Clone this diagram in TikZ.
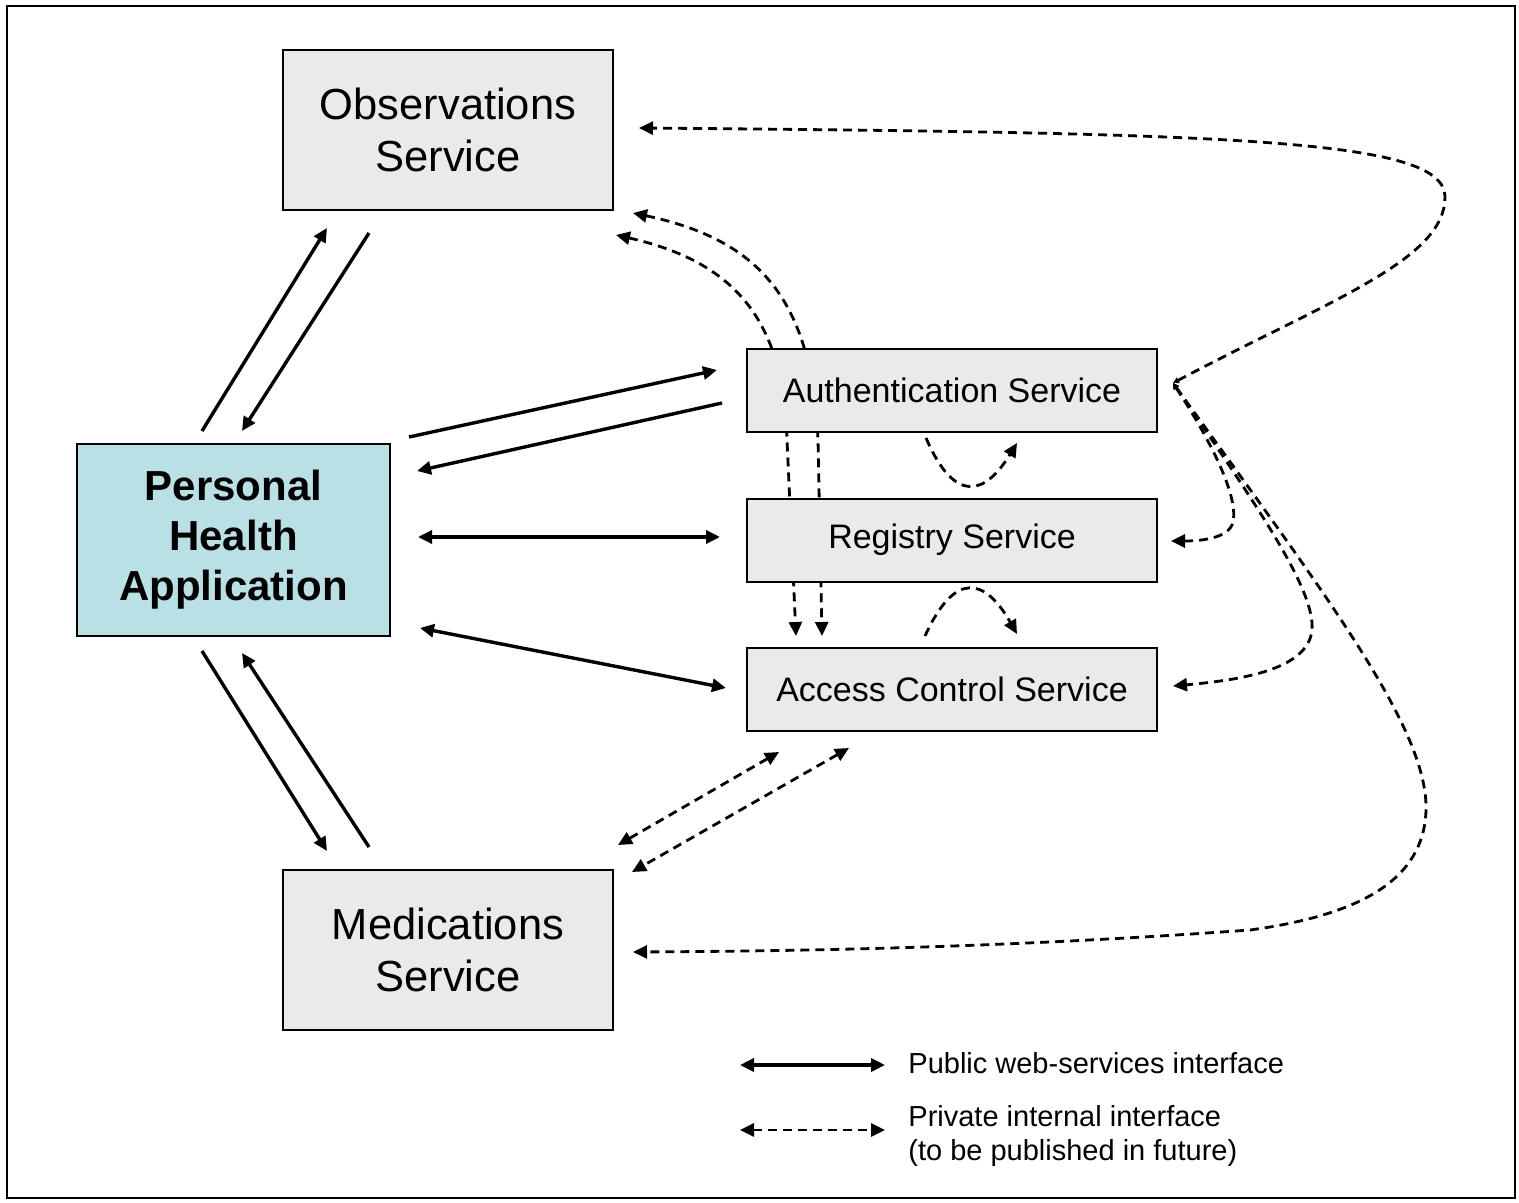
\documentclass[tikz,border=0pt]{standalone}
\usepackage{fontspec}
\setmainfont{Liberation Sans}
\usetikzlibrary{arrows.meta,backgrounds}
\definecolor{boxgray}{RGB}{234,234,234}
\definecolor{phacyan}{RGB}{185,224,228}
\tikzset{
  svc/.style={draw,line width=1pt,fill=boxgray,inner sep=0pt,align=center},
  bigsvc/.style={svc,minimum width=165pt,minimum height=80pt,font=\fontsize{21.75}{26}\selectfont},
  smallsvc/.style={svc,minimum width=205pt,minimum height=41.5pt,font=\fontsize{17}{20}\selectfont},
  tip/.tip={Triangle[length=7pt,width=6.5pt]},
  smalltip/.tip={Triangle[length=3pt,width=3pt]},
  pub/.style={line width=1.7pt,-tip},
  pubboth/.style={line width=1.7pt,tip-tip},
  privline/.style={line width=1.4pt,dash pattern=on 4.5pt off 3pt},
  priv/.style={privline,tip-tip},
  privone/.style={privline,-tip},
  privhub/.style={privline,smalltip-tip},
  legend/.style={inner sep=0pt,align=left,font=\fontsize{14.5}{17}\selectfont}
}
\begin{document}
\begin{tikzpicture}[x=0.5pt,y=-0.5pt]
  \useasboundingbox (0,0) rectangle (1519,1203);
  \draw[line width=1pt] (7,6) rectangle (1515,1198);
  % services
  \node[bigsvc] (obs) at (448,130) {Observations\\Service};
  \node[bigsvc] (med) at (448,950) {Medications\\Service};
  \node[svc,fill=phacyan,minimum width=156.5pt,minimum height=96pt,
        font=\bfseries\fontsize{21}{25}\selectfont] (pha) at (233.5,540) {Personal\\Health\\Application};
  \node[smallsvc] (auth) at (952,390.5) {Authentication Service};
  \node[smallsvc] (reg) at (952,540) {Registry Service};
  \node[smallsvc] (acc) at (952,689.5) {Access Control Service};
  % public interfaces
  \draw[pub] ([shift={(126,-12)}]pha.north west) -- ([shift={(45,17)}]obs.south west);
  \draw[pub] ([shift={(87,22)}]obs.south west) -- ([shift={(166,-12)}]pha.north west);
  \draw[pub] ([shift={(18,-6)}]pha.north east) -- ([shift={(-29,-20.5)}]auth.west);
  \draw[pub] ([shift={(-24,12.5)}]auth.west) -- ([shift={(26,28)}]pha.north east);
  \draw[pubboth] ([shift={(27,-3)}]pha.east) -- ([shift={(-26,-3)}]reg.west);
  \draw[pubboth] ([shift={(29,-9)}]pha.south east) -- ([shift={(-20,-1.5)}]acc.west);
  \draw[pub] ([shift={(126,14)}]pha.south west) -- ([shift={(45,-18)}]med.north west);
  \draw[pub] ([shift={(87,-22)}]med.north west) -- ([shift={(166,16)}]pha.south west);
  % private interfaces
  \begin{scope}[on background layer]
    \draw[priv] ([shift={(2,24)}]obs.south east) .. controls (735,262) and (784,320) .. (787,440)
      -- ([shift={(50,-11)}]acc.north west);
    \draw[priv] ([shift={(19,2)}]obs.south east) .. controls (760,240) and (812,300) .. (818,440)
      -- ([shift={(76,-11)}]acc.north west);
  \end{scope}
  \draw[priv] ([shift={(33,20)}]acc.south west) -- ([shift={(4,-24)}]med.north east);
  \draw[priv] ([shift={(103,16)}]acc.south west) -- ([shift={(18,3)}]med.north east);
  \draw[privone] ([shift={(-26,5)}]auth.south) .. controls (955,505) and (985,495) .. ([shift={(65,10)}]auth.south);
  \draw[privone] ([shift={(-27,-11)}]acc.north) .. controls (955,570) and (985,578) .. ([shift={(65,-13)}]acc.north);
  \coordinate (hub) at ([shift={(15,-7.5)}]auth.east);
  \draw[privhub] (hub) .. controls (1330,300) and (1445,260) .. (1445,197)
    .. controls (1445,140) and (1250,133) .. ([shift={(25,-2)}]obs.east);
  \draw[privhub] (hub) .. controls (1220,455) and (1240,505) .. (1232,525)
    .. controls (1225,540) and (1195,541) .. ([shift={(13,1)}]reg.east);
  \draw[privhub] (hub) .. controls (1260,510) and (1315,590) .. (1312,630)
    .. controls (1308,670) and (1240,680) .. ([shift={(15,-3.5)}]acc.east);
  \draw[privhub] (hub) .. controls (1330,600) and (1428,730) .. (1426,810)
    .. controls (1424,880) and (1360,915) .. (1250,930)
    .. controls (1000,948) and (800,951) .. ([shift={(19,2)}]med.east);
  % legend
  \node[legend,anchor=west] (pubtxt) at (908,1063) {Public web-services interface};
  \draw[pubboth] ([shift={(-168,2)}]pubtxt.west) -- ([shift={(-23,2)}]pubtxt.west);
  \node[legend,anchor=west] (privtxt) at (908,1136) {Private internal interface\\(to be published in future)};
  \draw[priv] ([shift={(-168,-6)}]privtxt.west) -- ([shift={(-23,-6)}]privtxt.west);
\end{tikzpicture}
\end{document}
